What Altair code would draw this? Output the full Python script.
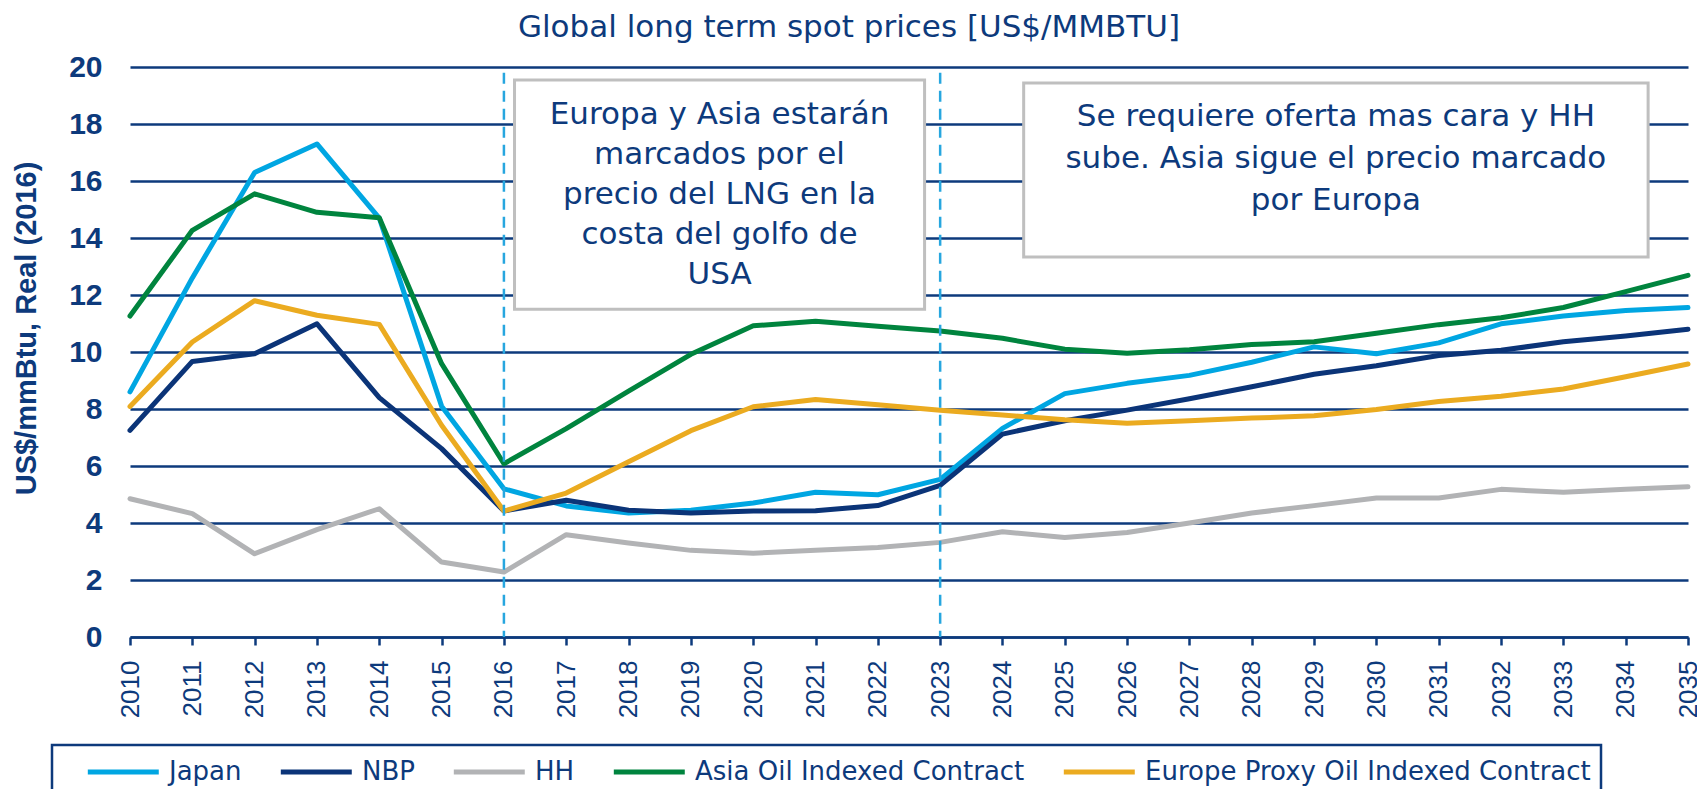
import altair as alt
import pandas as pd

FONT = "Liberation Sans"
TFONT = "DejaVu Sans"
NAVY = "#0d3a7c"

years = list(range(2010, 2036))
series_names = ["Japan", "NBP", "HH", "Asia Oil Indexed Contract", "Europe Proxy Oil Indexed Contract"]
series_colors = ["#00a6e2", "#0b3478", "#b2b3b5", "#00843e", "#ebab20"]

japan = [8.6, 12.6, 16.3, 17.3, 14.7, 8.1, 5.2, 4.6, 4.35, 4.45, 4.7, 5.08, 4.99, 5.53, 7.32, 8.54,
         8.9, 9.18, 9.64, 10.18, 9.94, 10.32, 10.99, 11.26, 11.46, 11.56]
nbp = [7.25, 9.67, 9.94, 10.99, 8.4, 6.61, 4.42, 4.8, 4.45, 4.35, 4.42, 4.43, 4.61, 5.32, 7.12, 7.59,
       7.96, 8.36, 8.78, 9.22, 9.52, 9.88, 10.06, 10.36, 10.56, 10.8]
hh = [4.85, 4.33, 2.92, 3.77, 4.5, 2.63, 2.28, 3.59, 3.3, 3.04, 2.94, 3.04, 3.14, 3.32, 3.69, 3.49,
      3.67, 4.0, 4.35, 4.61, 4.88, 4.88, 5.18, 5.08, 5.18, 5.27]
asia = [11.26, 14.27, 15.55, 14.9, 14.71, 9.59, 6.08, 7.31, 8.63, 9.92, 10.92, 11.08, 10.9, 10.74, 10.48, 10.1,
        9.96, 10.08, 10.26, 10.36, 10.66, 10.96, 11.2, 11.56, 12.12, 12.69]
europe = [8.09, 10.35, 11.8, 11.29, 10.97, 7.43, 4.42, 5.05, 6.15, 7.24, 8.08, 8.33, 8.15, 7.96, 7.79, 7.62,
          7.5, 7.59, 7.68, 7.76, 7.98, 8.26, 8.45, 8.7, 9.13, 9.58]

# annotation boxes (data coordinates)
box_x0 = [2016.17, 2024.34]
box_x1 = [2022.75, 2034.36]
box_y0 = [11.5, 13.33]
box_y1 = [19.54, 19.44]
note1_x, note1_y = [2019.46], [18.0]
note2_x, note2_y = [2029.35], [17.93]
note1_text = ["Europa y Asia estarán\nmarcados por el\nprecio del LNG en la\ncosta del golfo de\nUSA"]
note2_text = ["Se requiere oferta mas cara y HH\nsube. Asia sigue el precio marcado\npor Europa"]
divider_years = [2016, 2023]
divider_top = [19.8, 19.8]

Y_TITLE = "US$/mmBtu, Real (2016)"
TITLE = "Global long term spot prices [US$/MMBTU]"

rows = []
for k, (name, vals) in enumerate(zip(series_names, [japan, nbp, hh, asia, europe])):
    for yr, v in zip(years, vals):
        rows.append({"year": yr, "value": v, "series": name, "order": k})
df = pd.DataFrame(rows)

boxes_df = pd.DataFrame({"x0": box_x0, "x1": box_x1, "y0": box_y0, "y1": box_y1})
note1_df = pd.DataFrame({"x": note1_x, "y": note1_y, "t": note1_text})
note2_df = pd.DataFrame({"x": note2_x, "y": note2_y, "t": note2_text})
div_df = pd.DataFrame({"x": divider_years, "y": divider_top, "y0": [0, 0]})

xscale = alt.Scale(domain=[2010, 2035], nice=False, zero=False)
yscale = alt.Scale(domain=[0, 20], nice=False)

x_axis = alt.Axis(values=years, format="d", labelAngle=270, labelFontSize=26, labelColor=NAVY,
                  labelFont=FONT, labelPadding=15, tickSize=8, tickColor=NAVY, tickWidth=2.5,
                  domainColor=NAVY, domainWidth=2.5, grid=False, labelOverlap=False, labelFlush=False)
y_axis = alt.Axis(values=list(range(0, 21, 2)), format="d", labelFontSize=30, labelFontWeight="bold",
                  labelColor=NAVY, labelFont=FONT, labelPadding=28, domain=False, ticks=False,
                  grid=True, gridColor=NAVY, gridWidth=2.5, titleFontSize=29, titleFontWeight="bold",
                  titleColor=NAVY, titleFont=FONT, titlePadding=27, titleY=261)

legend = alt.Legend(orient="none", legendX=-78, legendY=678, direction="horizontal",
                    title=" ", titleOrient="left", titleFontSize=30, titleFont=FONT, titlePadding=23,
                    symbolType="M-1,0L4,0", symbolSize=806, symbolStrokeWidth=5,
                    labelOffset=50, labelFontSize=26, labelFont=TFONT, labelColor=NAVY,
                    labelLimit=800, columnPadding=28, padding=10, strokeColor=NAVY)

lines = alt.Chart(df).mark_line(strokeWidth=5, strokeCap="round", strokeJoin="round").encode(
    x=alt.X("year:Q", scale=xscale, axis=x_axis, title=None),
    y=alt.Y("value:Q", scale=yscale, axis=y_axis, title=Y_TITLE),
    color=alt.Color("series:N", scale=alt.Scale(domain=series_names, range=series_colors),
                    sort=series_names, legend=legend),
    order="order:Q",
)

boxes = alt.Chart(boxes_df).mark_rect(fill="white", stroke="#bfbfbf", strokeWidth=3).encode(
    x=alt.X("x0:Q", scale=xscale, title=None),
    x2="x1:Q",
    y=alt.Y("y0:Q", scale=yscale, title=Y_TITLE),
    y2="y1:Q",
)


def note(d, lh):
    return alt.Chart(d).mark_text(lineBreak="\n", lineHeight=lh, fontSize=31, font=TFONT,
                                  color=NAVY, align="center", baseline="alphabetic").encode(
        x=alt.X("x:Q", scale=xscale, title=None),
        y=alt.Y("y:Q", scale=yscale, title=Y_TITLE),
        text="t:N",
    )


rules = alt.Chart(div_df).mark_rule(color="#27a6df", strokeWidth=2.5, strokeDash=[11, 7]).encode(
    x=alt.X("x:Q", scale=xscale, title=None),
    y=alt.Y("y:Q", scale=yscale, title=Y_TITLE),
    y2="y0:Q",
)

chart = alt.layer(lines, boxes, note(note1_df, 40), note(note2_df, 42), rules).properties(
    width=1558, height=570,
    padding={"left": 122, "top": 59, "right": 9, "bottom": 152},
    autosize=alt.AutoSizeParams(type="none"),
    title=alt.TitleParams(TITLE, fontSize=31, font=TFONT, color=NAVY, fontWeight="normal",
                          anchor="middle", frame="group", offset=8, dx=-60),
).configure_view(stroke=None).configure_legend(strokeWidth=2.5)

chart.save("out.html", embed_options={"renderer": "svg", "actions": False})
